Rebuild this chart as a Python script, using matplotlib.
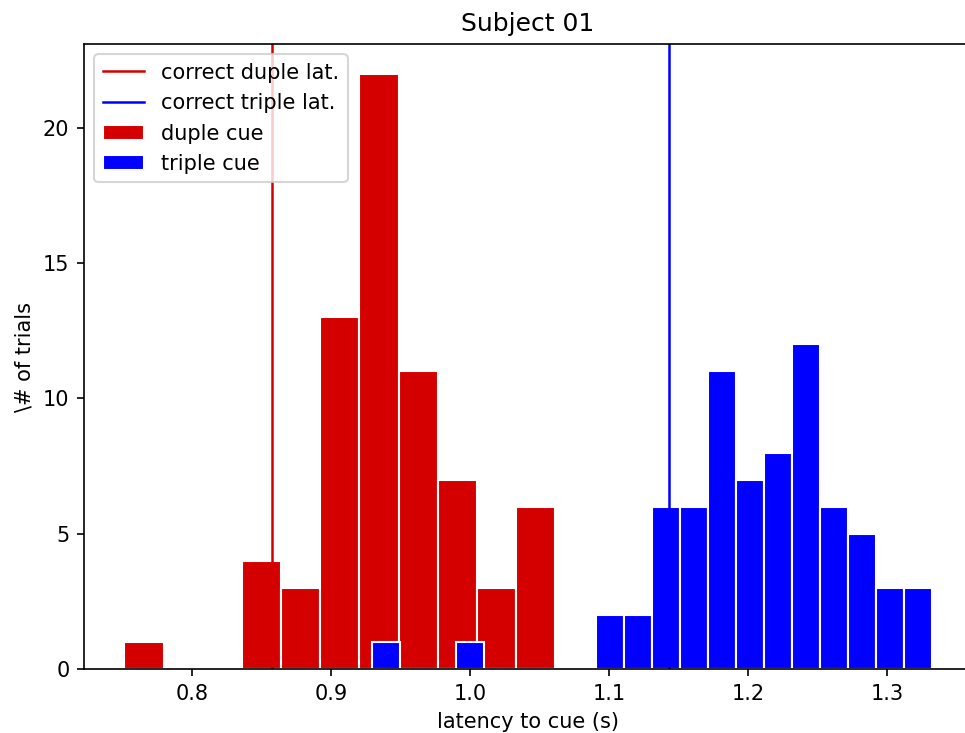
import numpy as np
import matplotlib
matplotlib.use('Agg')
import matplotlib.pyplot as plt

# histogram bins (latency to cue, s)
duple_edges = [0.7511, 0.7793, 0.8075, 0.8357, 0.8639, 0.8921, 0.9203,
               0.9485, 0.9767, 1.0049, 1.0331, 1.0613]
duple_counts = [1, 0, 0, 4, 3, 13, 22, 11, 7, 3, 6]

triple_edges = [0.9290, 0.9492, 0.9693, 0.9895, 1.0096, 1.0298, 1.0499,
                1.0701, 1.0902, 1.1104, 1.1305, 1.1507, 1.1708, 1.1910,
                1.2111, 1.2313, 1.2515, 1.2716, 1.2918, 1.3119, 1.3321]
triple_counts = [1, 0, 0, 1, 0, 0, 0, 0, 2, 2, 6, 6, 11, 7, 8, 12, 6, 5, 3, 3]

correct_duple = 6 / 7.
correct_triple = 8 / 7.

RED = '#d40000'
BLUE = '#0000ff'

fig = plt.figure(figsize=(965 / 150., 733 / 150.), dpi=150)
ax = fig.add_axes([84 / 965., 64 / 733., 888 / 965., 625 / 733.])

d_edges = np.array(duple_edges)
t_edges = np.array(triple_edges)
ax.hist((d_edges[:-1] + d_edges[1:]) / 2, bins=d_edges, weights=duple_counts,
        color=RED, edgecolor='white', linewidth=1, label='duple cue')
ax.hist((t_edges[:-1] + t_edges[1:]) / 2, bins=t_edges, weights=triple_counts,
        color=BLUE, edgecolor='white', linewidth=1, label='triple cue')

ax.axvline(correct_duple, color=RED, linewidth=1.2, label='correct duple lat.')
ax.axvline(correct_triple, color=BLUE, linewidth=1.2, label='correct triple lat.')

ax.set_xticks([0.8, 0.9, 1.0, 1.1, 1.2, 1.3])
ax.set_yticks([0, 5, 10, 15, 20])
ax.set_xlabel('latency to cue (s)')
ax.set_ylabel('\\# of trials')
ax.set_title('Subject 01')
# the original picture is cut just before the right spine
ax.spines['right'].set_visible(False)

handles, labels = ax.get_legend_handles_labels()
order = [2, 3, 0, 1]
ax.legend([handles[i] for i in order], [labels[i] for i in order], loc='upper left')

fig.savefig('out.png', dpi=150)
